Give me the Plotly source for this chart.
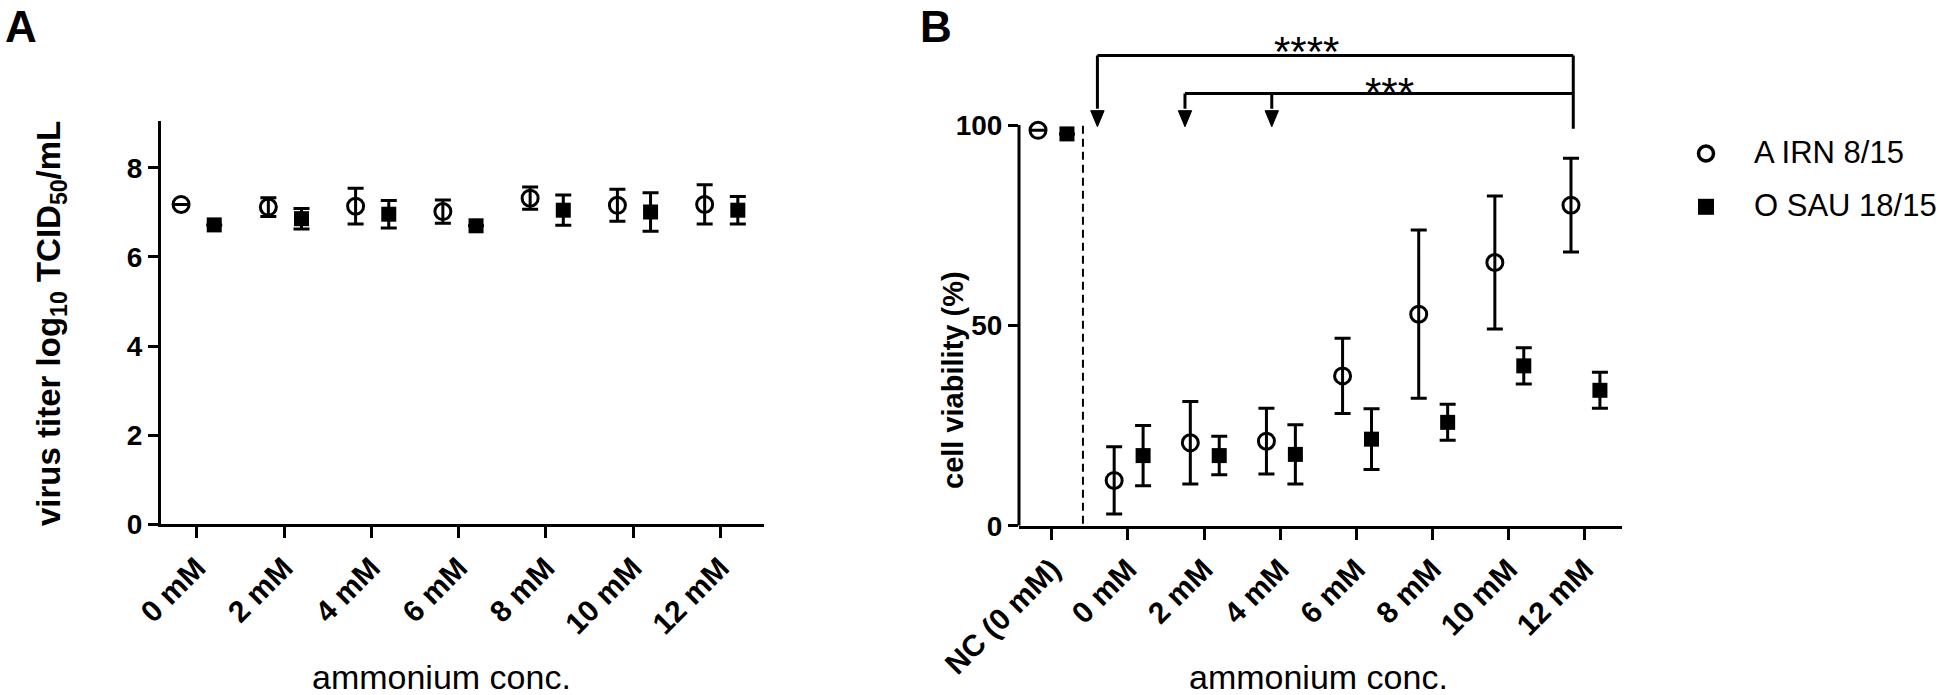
import plotly.graph_objects as go

# ---------------- data ----------------
categories_a = ["0 mM", "2 mM", "4 mM", "6 mM", "8 mM", "10 mM", "12 mM"]
irn_titer = [7.18, 7.12, 7.14, 7.02, 7.32, 7.16, 7.18]
irn_titer_err = [None, 0.21, 0.40, 0.26, 0.25, 0.36, 0.44]
sau_titer = [6.72, 6.86, 6.96, 6.70, 7.05, 7.01, 7.05]
sau_titer_err = [None, 0.23, 0.31, None, 0.34, 0.43, 0.31]

categories_b = ["NC (0 mM)", "0 mM", "2 mM", "4 mM", "6 mM", "8 mM", "10 mM", "12 mM"]
irn_viab = [98.7, 11.3, 20.7, 21.1, 37.4, 52.8, 65.7, 80.0]
irn_viab_err = [None, 8.4, 10.3, 8.2, 9.4, 21.0, 16.6, 11.7]
sau_viab = [97.8, 17.5, 17.5, 17.8, 21.6, 25.8, 39.9, 33.8]
sau_viab_err = [None, 7.5, 4.8, 7.4, 7.6, 4.5, 4.5, 4.5]

series_names = ["A IRN 8/15", "O SAU 18/15"]
sig_labels = ["****", "***"]

# ---------------- style ----------------
W, H = 1946, 695
FONT = "Liberation Sans, Arial, sans-serif"
BLACK = "black"
OFF_CIRC, OFF_SQ = -0.18, 0.20


def px_x(p):
    return p / W


def px_y(p):
    return (H - p) / H


circ_marker = dict(symbol="circle-open", size=16, color=BLACK, line=dict(color=BLACK, width=3))
sq_marker = dict(symbol="square", size=15, color=BLACK, line=dict(width=0))


def err(arr):
    return dict(type="data", array=arr, visible=True, color=BLACK, thickness=3, width=8)


fig = go.Figure()

# Panel A
fig.add_trace(go.Scatter(x=[i + OFF_CIRC for i in range(len(categories_a))], y=irn_titer,
                         mode="markers", marker=circ_marker, error_y=err(irn_titer_err),
                         xaxis="x", yaxis="y", showlegend=False, cliponaxis=False))
fig.add_trace(go.Scatter(x=[i + OFF_SQ for i in range(len(categories_a))], y=sau_titer,
                         mode="markers", marker=sq_marker, error_y=err(sau_titer_err),
                         xaxis="x", yaxis="y", showlegend=False, cliponaxis=False))
# Panel B
fig.add_trace(go.Scatter(x=[i + OFF_CIRC for i in range(len(categories_b))], y=irn_viab,
                         mode="markers", marker=circ_marker, error_y=err(irn_viab_err),
                         xaxis="x2", yaxis="y2", showlegend=False, cliponaxis=False))
fig.add_trace(go.Scatter(x=[i + OFF_SQ for i in range(len(categories_b))], y=sau_viab,
                         mode="markers", marker=sq_marker, error_y=err(sau_viab_err),
                         xaxis="x2", yaxis="y2", showlegend=False, cliponaxis=False))

# Legend (manual, pixel-space overlay axis)
leg_x = 1706
leg_y = [153.5, 206.8]
fig.add_trace(go.Scatter(x=[leg_x], y=[leg_y[0]], mode="markers",
                         marker=dict(symbol="circle-open", size=15, color=BLACK, line=dict(color=BLACK, width=3.5)),
                         xaxis="x3", yaxis="y3", showlegend=False, cliponaxis=False))
fig.add_trace(go.Scatter(x=[leg_x], y=[leg_y[1]], mode="markers",
                         marker=dict(symbol="square", size=16, color=BLACK),
                         xaxis="x3", yaxis="y3", showlegend=False, cliponaxis=False))

tickfont = dict(family=FONT, size=30, color=BLACK, weight="bold")
ytickfont = dict(family=FONT, size=28, color=BLACK, weight="bold")
common_x = dict(tickangle=-45, ticks="outside", ticklen=11, tickwidth=3, tickcolor=BLACK,
                showline=True, linewidth=3, linecolor=BLACK, showgrid=False, zeroline=False,
                tickfont=tickfont, automargin=False)
common_y = dict(ticks="outside", ticklen=10, tickwidth=3, tickcolor=BLACK,
                linewidth=3, linecolor=BLACK, showgrid=False, zeroline=False,
                tickfont=ytickfont, automargin=False)

fig.update_layout(
    template="none",
    width=W, height=H,
    margin=dict(l=0, r=0, t=0, b=0, pad=0, autoexpand=False),
    paper_bgcolor="white", plot_bgcolor="rgba(0,0,0,0)",
    showlegend=False,
    xaxis=dict(domain=[px_x(161), px_x(764)], range=[-0.41, 6.5],
               tickvals=list(range(len(categories_a))), ticktext=categories_a, anchor="y", **common_x),
    yaxis=dict(domain=[px_y(524.3), px_y(121.1)], range=[0, 9.05],
               tickvals=[0, 2, 4, 6, 8], showline=True, anchor="x", **common_y),
    xaxis2=dict(domain=[px_x(1019), px_x(1622)], range=[-0.43, 7.49],
                tickvals=list(range(len(categories_b))), ticktext=categories_b, anchor="y2", **common_x),
    yaxis2=dict(domain=[px_y(525.7), px_y(24.95)], range=[0, 125],
                tickvals=[0, 50, 100], showline=False, anchor="x2", **common_y),
    xaxis3=dict(domain=[0, 1], range=[0, W], visible=False, anchor="y3", automargin=False),
    yaxis3=dict(domain=[0, 1], range=[H, 0], visible=False, anchor="x3", automargin=False),
)

shapes = []
# Panel B y-axis line (only up to 100)
shapes.append(dict(type="line", xref="x2 domain", yref="y2", x0=0, x1=0, y0=0, y1=100,
                   line=dict(color=BLACK, width=3)))
# dashed separator between NC and treatments
shapes.append(dict(type="line", xref="x2", yref="y2", x0=0.41, x1=0.41, y0=0.5, y1=100,
                   line=dict(color=BLACK, width=2, dash="8px,5px")))

# significance brackets
outer_y, inner_y = 117.4, 107.9
right_x = 6.85
outer_arrows = [0.6]
inner_arrows = [1.75, 2.89]
tip_y, head_top = 99.6, 103.6
head_hw = 0.088
line = dict(color=BLACK, width=3)
shapes.append(dict(type="line", xref="x2", yref="y2", x0=outer_arrows[0], x1=right_x, y0=outer_y, y1=outer_y, line=line))
shapes.append(dict(type="line", xref="x2", yref="y2", x0=inner_arrows[0], x1=right_x, y0=inner_y, y1=inner_y, line=line))
shapes.append(dict(type="line", xref="x2", yref="y2", x0=right_x, x1=right_x, y0=outer_y, y1=99.1, line=line))
for ax_, top in [(a, outer_y) for a in outer_arrows] + [(a, inner_y) for a in inner_arrows]:
    shapes.append(dict(type="line", xref="x2", yref="y2", x0=ax_, x1=ax_, y0=top, y1=head_top + 0.5, line=line))
    shapes.append(dict(type="path", xref="x2", yref="y2",
                       path=f"M{ax_ - head_hw},{head_top} L{ax_ + head_hw},{head_top} L{ax_},{tip_y} Z",
                       fillcolor=BLACK, line=dict(color=BLACK, width=1)))
fig.update_layout(shapes=shapes)

ann = []
# significance stars
ann.append(dict(text=sig_labels[0], x=3.34, y=118.3, xref="x2", yref="y2", showarrow=False,
                font=dict(family=FONT, size=42, color=BLACK), xanchor="center", yanchor="middle"))
ann.append(dict(text=sig_labels[1], x=4.44, y=108.2, xref="x2", yref="y2", showarrow=False,
                font=dict(family=FONT, size=42, color=BLACK), xanchor="center", yanchor="middle"))
# panel letters
ann.append(dict(text="<b>A</b>", x=px_x(3), y=1, xref="paper", yref="paper", showarrow=False,
                font=dict(family=FONT, size=44, color=BLACK), xanchor="left", yanchor="top"))
ann.append(dict(text="<b>B</b>", x=px_x(918), y=1, xref="paper", yref="paper", showarrow=False,
                font=dict(family=FONT, size=44, color=BLACK), xanchor="left", yanchor="top"))
# axis titles
ann.append(dict(text="<b>virus titer log<sub>10</sub> TCID<sub>50</sub>/mL</b>", x=px_x(51), y=px_y(324),
                xref="paper", yref="paper", showarrow=False, textangle=-90,
                font=dict(family=FONT, size=33, color=BLACK), xanchor="center", yanchor="middle"))
ann.append(dict(text="<b>cell viability (%)</b>", x=px_x(953), y=px_y(380),
                xref="paper", yref="paper", showarrow=False, textangle=-90,
                font=dict(family=FONT, size=29, color=BLACK), xanchor="center", yanchor="middle"))
for cx in [441, 1318]:
    ann.append(dict(text="ammonium conc.", x=px_x(cx), y=px_y(677), xref="paper", yref="paper",
                    showarrow=False, font=dict(family=FONT, size=34, color=BLACK),
                    xanchor="center", yanchor="middle"))
# legend labels
for name, yy in zip(series_names, leg_y):
    ann.append(dict(text=name, x=px_x(1752), y=px_y(yy - 1), xref="paper", yref="paper",
                    showarrow=False, font=dict(family=FONT, size=31, color=BLACK),
                    xanchor="left", yanchor="middle"))
fig.update_layout(annotations=ann)

fig.write_html("out.html", config={"displayModeBar": False},
               post_script="document.body.style.margin='0px';")
